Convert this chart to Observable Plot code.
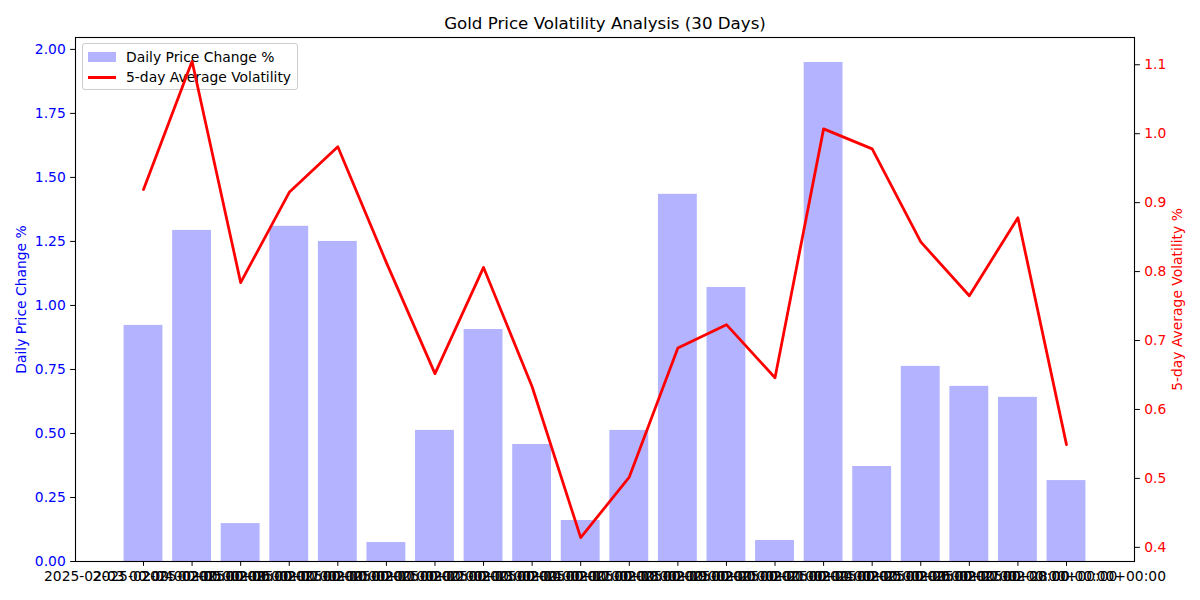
<!DOCTYPE html>
<html>
<head>
<meta charset="utf-8">
<script src="https://cdn.jsdelivr.net/npm/d3@7"></script>
<script src="https://cdn.jsdelivr.net/npm/@observablehq/plot@0.6"></script>
<style>
  html, body { margin: 0; padding: 0; background: white; }
  #wrap { position: relative; width: 1200px; height: 600px; font-family: "DejaVu Sans", sans-serif; }
  #legend { position: absolute; left: 82px; top: 43px; width: 214px; height: 45px; border: 1px solid #cccccc; border-radius: 3px; background: rgba(255,255,255,0.8); z-index: 0; font-size: 13.89px; color: #000; }
  #legend .sw { position: absolute; left: 5px; width: 28px; }
  #legend .lbl { position: absolute; left: 43px; white-space: nowrap; }
  #chart { position: absolute; left: 0; top: 0; z-index: 1; }
</style>
</head>
<body>
<div id="wrap">
  <div id="legend">
    <div class="sw" style="top:8px;height:10px;background:#b3b3ff;"></div>
    <div class="lbl" style="top:5px;">Daily Price Change %</div>
    <div class="sw" style="top:32px;height:3px;background:#ff0000;"></div>
    <div class="lbl" style="top:25px;">5-day Average Volatility</div>
  </div>
  <div id="chart"></div>
</div>
<script>
const dates = [
  "2025-02-03 00:00:00+00:00", "2025-02-04 00:00:00+00:00", "2025-02-05 00:00:00+00:00",
  "2025-02-06 00:00:00+00:00", "2025-02-07 00:00:00+00:00", "2025-02-10 00:00:00+00:00",
  "2025-02-11 00:00:00+00:00", "2025-02-12 00:00:00+00:00", "2025-02-13 00:00:00+00:00",
  "2025-02-14 00:00:00+00:00", "2025-02-17 00:00:00+00:00", "2025-02-18 00:00:00+00:00",
  "2025-02-19 00:00:00+00:00", "2025-02-20 00:00:00+00:00", "2025-02-21 00:00:00+00:00",
  "2025-02-24 00:00:00+00:00", "2025-02-25 00:00:00+00:00", "2025-02-26 00:00:00+00:00",
  "2025-02-27 00:00:00+00:00", "2025-02-28 00:00:00+00:00"
];
const dailyChange = [0.922, 1.293, 0.148, 1.309, 1.250, 0.074, 0.512, 0.906, 0.457, 0.160,
                     0.512, 1.434, 1.070, 0.082, 1.949, 0.371, 0.762, 0.684, 0.641, 0.316];
const avgVolatility = [0.919, 1.105, 0.784, 0.915, 0.981, 0.813, 0.652, 0.806, 0.633, 0.414,
                       0.502, 0.689, 0.723, 0.646, 1.007, 0.978, 0.843, 0.765, 0.878, 0.549];
const leftTicks = [0, 0.25, 0.5, 0.75, 1.0, 1.25, 1.5, 1.75, 2.0];
const rightTicks = [0.4, 0.5, 0.6, 0.7, 0.8, 0.9, 1.0, 1.1];

const W = 1200, H = 600;
const mL = 75, mR = 66, mT = 37, mB = 39;
const font = "DejaVu Sans, sans-serif";
const fs = 13.89;

// left scale domain (sticky 0, 5% top margin)
const leftMax = d3.max(dailyChange) * 1.05;
// right scale domain (5% margins)
const rMin = d3.min(avgVolatility), rMax = d3.max(avgVolatility);
const rPad = (rMax - rMin) * 0.05;
const r0 = rMin - rPad, r1 = rMax + rPad;
const toLeft = v => (v - r0) / (r1 - r0) * leftMax;
const fromLeft = v => v / leftMax * (r1 - r0) + r0;

const data = dates.map((d, i) => ({date: d, change: dailyChange[i], vol: avgVolatility[i], volL: toLeft(avgVolatility[i])}));

const chart = Plot.plot({
  width: W, height: H,
  marginLeft: mL, marginRight: mR, marginTop: mT, marginBottom: mB,
  style: {background: "transparent", fontFamily: font, fontSize: fs + "px", overflow: "visible"},
  x: {type: "band", domain: dates, paddingInner: 0.2, paddingOuter: 1.0, round: false, label: null},
  y: {domain: [0, leftMax], label: null},
  marks: [
    Plot.barY(data, {x: "date", y: "change", fill: "#b3b3ff"}),
    Plot.line(data, {x: "date", y: "volL", stroke: "#ff0000", strokeWidth: 2.78}),
    Plot.frame({stroke: "black", strokeWidth: 1.1}),
    Plot.axisX({ticks: dates, tickSize: 4.86, tickPadding: 4.86, fontSize: fs, stroke: "black", fill: "black", label: null}),
    Plot.axisY({anchor: "left", ticks: leftTicks, tickFormat: d => d.toFixed(2), tickSize: 4.86, tickPadding: 4.86, fontSize: fs, stroke: "black", fill: "blue", label: null}),
    Plot.axisY({anchor: "right", ticks: rightTicks.map(toLeft), tickFormat: d => fromLeft(d).toFixed(1), tickSize: 4.86, tickPadding: 4.86, fontSize: fs, stroke: "black", fill: "red", label: null}),
    Plot.text(["Gold Price Volatility Analysis (30 Days)"], {frameAnchor: "top", dy: -14, lineAnchor: "middle", fontSize: 16.67, fill: "black"}),
    Plot.text(["Daily Price Change %"], {frameAnchor: "left", dx: -54, rotate: -90, lineAnchor: "middle", textAnchor: "middle", fontSize: fs, fill: "blue"}),
    Plot.text(["5-day Average Volatility %"], {frameAnchor: "right", dx: 43, rotate: -90, lineAnchor: "middle", textAnchor: "middle", fontSize: fs, fill: "red"})
  ]
});
document.getElementById("chart").appendChild(chart);
</script>
</body>
</html>
